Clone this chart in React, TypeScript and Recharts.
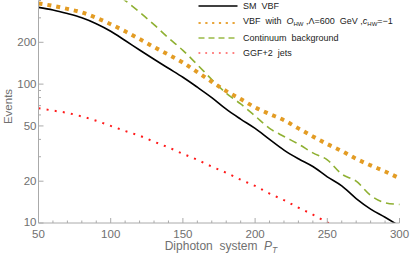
import React from 'react';
import { LineChart, Line, XAxis, YAxis } from 'recharts';

const xValues = [50, 60, 70, 80, 90, 100, 110, 120, 130, 140, 150, 160, 170, 180, 190, 200, 210, 220, 230, 240, 250, 260, 270, 280, 290, 300];
const smVbf = [357, 342, 322, 300, 272, 240, 206, 176, 151, 130, 112, 95, 80, 66, 56, 48, 40, 33.5, 29, 25.5, 21.5, 18.5, 15, 12.6, 11, 9.5];
const vbfOhw = [381, 366, 348, 328, 300, 270, 240, 211, 185, 163, 143, 122, 104, 89, 78, 68, 61, 55, 48, 42, 37, 33, 29, 26, 23.5, 21];
const continuum = [null, null, null, null, null, 480, 400, 330, 268, 215, 175, 138, 108, 86, 72, 59, 48, 42, 37, 32, 28.5, 22.5, 20, 15.8, 14, 13.6];
const ggf = [67, 64.5, 62, 58.5, 54.5, 50, 46, 42.5, 38.5, 35, 31.5, 28.5, 25.5, 23, 20.5, 18.5, 16.3, 14.6, 12.9, 11.5, 10.1, 9, null, null, null, null];

const xMajor = [50, 100, 150, 200, 250, 300];
const xTicks = [50, 60, 70, 80, 90, 100, 110, 120, 130, 140, 150, 160, 170, 180, 190, 200, 210, 220, 230, 240, 250, 260, 270, 280, 290, 300];
const yMajor = [10, 20, 50, 100, 200];
const yTicks = [10, 20, 30, 40, 50, 60, 70, 80, 90, 100, 200, 300, 400];

const data = xValues.map((x, i) => ({ x, sm: smVbf[i], vbf: vbfOhw[i], cont: continuum[i], ggf: ggf[i] }));

const FRAME = '#aaaaaa';
const LABEL = '#707070';
const FONT = '"Liberation Sans", Arial, sans-serif';

const BottomTick = (p: any) => {
  const v = p.payload.value;
  const major = xMajor.includes(v);
  return (
    <g>
      <line x1={p.x} x2={p.x} y1={p.y} y2={p.y - (major ? 5 : 2.5)} stroke={FRAME} />
      {major && (
        <text x={p.x} y={p.y + 15} textAnchor="middle" fontSize={11.5} fill={LABEL} fontFamily={FONT}>{v}</text>
      )}
    </g>
  );
};
const TopTick = (p: any) => {
  const v = p.payload.value;
  const major = xMajor.includes(v);
  return <line x1={p.x} x2={p.x} y1={p.y} y2={p.y + (major ? 5 : 2.5)} stroke={FRAME} />;
};
const LeftTick = (p: any) => {
  const v = p.payload.value;
  const major = yMajor.includes(v);
  return (
    <g>
      <line x1={p.x} x2={p.x + (major ? 5 : 2.5)} y1={p.y} y2={p.y} stroke={FRAME} />
      {major && (
        <text x={p.x - 2} y={p.y + (v === 10 ? 3 : 4)} textAnchor="end" fontSize={11.5} fill={LABEL} fontFamily={FONT}>{v}</text>
      )}
    </g>
  );
};
const RightTick = (p: any) => {
  const v = p.payload.value;
  const major = yMajor.includes(v);
  return <line x1={p.x} x2={p.x - (major ? 5 : 2.5)} y1={p.y} y2={p.y} stroke={FRAME} />;
};

const XLabel = (props: any) => {
  const vb = props.viewBox || { x: 0, y: 0, width: 0, height: 0 };
  return (
    <text x={vb.x + vb.width / 2 + 2} y={vb.y + 27} textAnchor="middle" fontSize={12} fill={LABEL} fontFamily={FONT} style={{ whiteSpace: 'pre' }}>
      {'Diphoton  system  '}
      <tspan fontStyle="italic">P</tspan>
      <tspan fontStyle="italic" fontSize={8.5} dy={3}>T</tspan>
    </text>
  );
};
const YLabel = (props: any) => {
  const vb = props.viewBox || { x: 0, y: 0, width: 0, height: 0 };
  const cx = 7.5;
  const cy = vb.y + 106;
  return (
    <text x={cx} y={cy} transform={`rotate(-90 ${cx} ${cy})`} textAnchor="middle" dominantBaseline="central" fontSize={11.5} fill={LABEL} fontFamily={FONT}>Events</text>
  );
};

const legendItems = [
  { label: 'sm', stroke: '#000', width: 1.4, dash: undefined as string | undefined },
  { label: 'vbf', stroke: '#E9A53A', width: 2.2, dash: '2.2 4.6' },
  { label: 'cont', stroke: '#9BBB45', width: 1.3, dash: '6 4' },
  { label: 'ggf', stroke: '#FF8080', width: 1.8, dash: '1.8 5' },
];

const LegendText = ({ id }: { id: string }) => {
  if (id === 'sm') return <span>SM&nbsp;&nbsp;VBF</span>;
  if (id === 'vbf')
    return (
      <span>
        VBF&nbsp;&nbsp;with&nbsp;&nbsp;<i>O</i><sub style={{ fontSize: 6, verticalAlign: -2 }}>HW</sub>&nbsp;,Λ=600&nbsp;&nbsp;GeV&nbsp;,<i>c</i><sub style={{ fontSize: 6, verticalAlign: -2 }}>HW</sub>=−1
      </span>
    );
  if (id === 'cont') return <span>Continuum&nbsp;&nbsp;background</span>;
  return <span>GGF+2&nbsp;&nbsp;jets</span>;
};

const ChartLegend = () => (
  <div style={{ position: 'absolute', left: 198, top: 0, fontFamily: FONT, fontSize: 9, color: '#222' }}>
    {legendItems.map((it, i) => (
      <div key={it.label} style={{ position: 'absolute', left: 0, top: [6, 22.7, 37.7, 52.7][i] - 6, height: 12, display: 'flex', alignItems: 'center', whiteSpace: 'nowrap' }}>
        <svg width={40} height={12} style={{ display: 'block' }}>
          <line x1={0.5} x2={39.5} y1={6} y2={6} stroke={it.stroke} strokeWidth={it.width} strokeDasharray={it.dash} />
        </svg>
        <div style={{ marginLeft: 5, lineHeight: '12px' }}><LegendText id={it.label} /></div>
      </div>
    ))}
  </div>
);

export default function App() {
  return (
    <div style={{ position: 'absolute', left: 0, top: 0, width: 411, height: 256, background: '#fff' }}>
      <LineChart width={411} height={256} data={data} margin={{ top: 0.5, right: 11.5, bottom: 8, left: 0 }}>
        <XAxis dataKey="x" type="number" domain={[50, 300]} ticks={xTicks} interval={0} height={25} stroke={FRAME}
          tickSize={0} tickMargin={0} tickLine={false} tick={BottomTick} label={<XLabel />} />
        <XAxis xAxisId="top" orientation="top" dataKey="x" type="number" domain={[50, 300]} ticks={xTicks} interval={0}
          height={0} stroke={FRAME} tickSize={0} tickMargin={0} tickLine={false} tick={TopTick} />
        <YAxis type="number" scale="log" domain={[10, 400]} allowDataOverflow ticks={yTicks} interval={0} width={38.5}
          stroke={FRAME} tickSize={0} tickMargin={0} tickLine={false} tick={LeftTick} label={<YLabel />} />
        <YAxis yAxisId="right" orientation="right" type="number" scale="log" domain={[10, 400]} allowDataOverflow ticks={yTicks}
          interval={0} width={0} stroke={FRAME} tickSize={0} tickMargin={0} tickLine={false} tick={RightTick} />
        <Line type="monotone" dataKey="cont" stroke="#8FB032" strokeWidth={1.6} strokeDasharray="8 5" dot={false} isAnimationActive={false} />
        <Line type="monotone" dataKey="ggf" stroke="#FF1A1A" strokeWidth={2} strokeDasharray="2 6.2" dot={false} isAnimationActive={false} />
        <Line type="monotone" dataKey="vbf" stroke="#E39C24" strokeWidth={4} strokeDasharray="4 5" dot={false} isAnimationActive={false} />
        <Line type="monotone" dataKey="sm" stroke="#000" strokeWidth={1.6} dot={false} isAnimationActive={false} />
      </LineChart>
      <ChartLegend />
    </div>
  );
}
